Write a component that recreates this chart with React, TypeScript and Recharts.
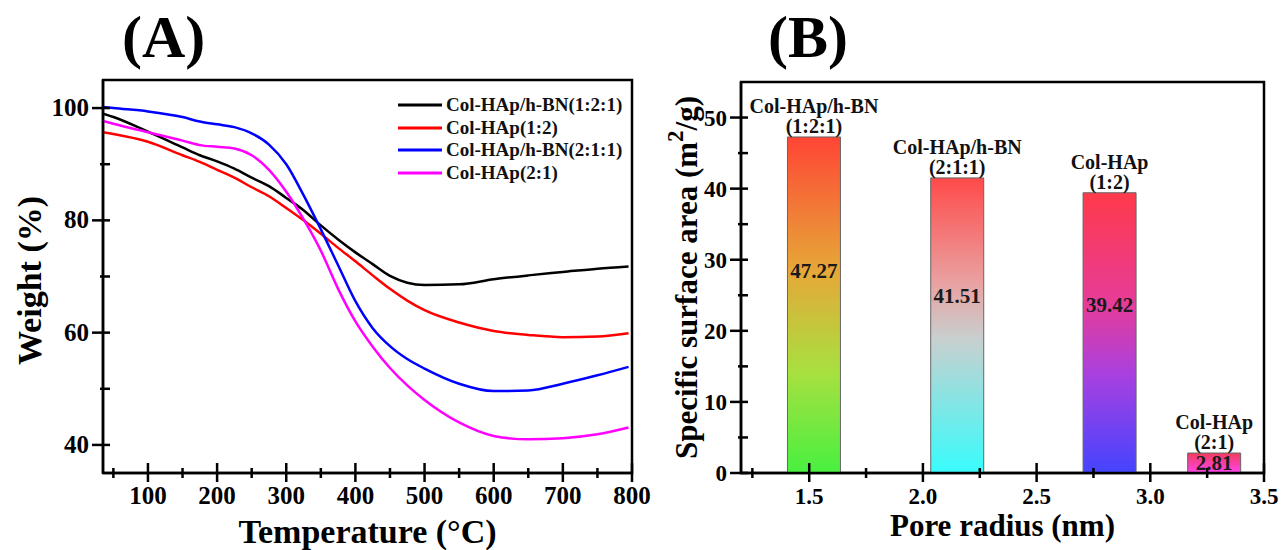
import React from 'react';
import {
  LineChart, Line, XAxis, YAxis, ReferenceArea, Label,
  BarChart, Bar, Cell, LabelList,
} from 'recharts';

const FONT = '"Liberation Serif", "Times New Roman", serif';

// (A) TGA curves, weight %
const temperature = [35, 50, 100, 150, 175, 200, 225, 250, 275, 300, 325, 350, 375, 400, 425, 450, 475, 500, 550, 600, 650, 700, 750, 795];
const wtBN121 = [99.0, 98.4, 95.8, 93.0, 91.6, 90.5, 89.2, 87.6, 86.1, 84.0, 81.8, 79.1, 76.6, 74.3, 72.2, 70.1, 68.9, 68.5, 68.6, 69.5, 70.2, 70.8, 71.4, 71.8];
const wtHAp12 = [95.7, 95.4, 94.0, 91.6, 90.4, 89.0, 87.6, 85.9, 84.3, 82.2, 80.0, 77.6, 75.1, 72.7, 70.2, 67.8, 65.7, 64.0, 61.8, 60.3, 59.6, 59.2, 59.3, 59.9];
const wtBN211 = [100.2, 100.0, 99.4, 98.4, 97.6, 97.1, 96.6, 95.5, 93.5, 90.0, 84.5, 78.4, 72.0, 65.6, 60.8, 57.6, 55.3, 53.6, 50.9, 49.6, 49.7, 50.9, 52.4, 53.9];
const wtHAp21 = [97.7, 97.2, 95.7, 94.2, 93.4, 93.1, 92.8, 91.6, 89.0, 85.1, 80.2, 74.6, 67.8, 62.0, 57.5, 53.7, 50.6, 48.0, 44.0, 41.6, 41.0, 41.2, 41.9, 43.1];

const seriesKeys = ['bn121', 'hap12', 'bn211', 'hap21'];
const seriesNames = ['Col-HAp/h-BN(1:2:1)', 'Col-HAp(1:2)', 'Col-HAp/h-BN(2:1:1)', 'Col-HAp(2:1)'];
const seriesColors = ['#000000', '#ff0000', '#0000ff', '#ff00ff'];

const tempTicks = [50, 100, 150, 200, 250, 300, 350, 400, 450, 500, 550, 600, 650, 700, 750, 800];
const weightTicks = [40, 50, 60, 70, 80, 90, 100];

// (B) BET surface area
const poreRadius = [1.52, 2.15, 2.82, 3.28];
const surfaceArea = [47.27, 41.51, 39.42, 2.81];
const sampleName = ['Col-HAp/h-BN', 'Col-HAp/h-BN', 'Col-HAp', 'Col-HAp'];
const sampleRatio = ['(1:2:1)', '(2:1:1)', '(1:2)', '(2:1)'];
const radiusTicks = [1.25, 1.5, 1.75, 2.0, 2.25, 2.5, 2.75, 3.0, 3.25, 3.5];
const areaTicks = [0, 5, 10, 15, 20, 25, 30, 35, 40, 45, 50];

const tgaData = temperature.map((t, i) => ({
  t,
  bn121: wtBN121[i],
  hap12: wtHAp12[i],
  bn211: wtBN211[i],
  hap21: wtHAp21[i],
}));

const betData = poreRadius.map((r, i) => ({
  r,
  area: surfaceArea[i],
  name: sampleName[i],
  ratio: sampleRatio[i],
}));

// bar gradients, top -> bottom
const barGradients = [
  [['0%', '#ff4535'], ['40%', '#e6a838'], ['70%', '#a8e040'], ['100%', '#48f040']],
  [['0%', '#ff4a4a'], ['35%', '#eaa0a0'], ['55%', '#c8d0d0'], ['100%', '#38fcfc']],
  [['0%', '#ff3a4a'], ['40%', '#e63c9a'], ['65%', '#a840e0'], ['100%', '#4444ff']],
  [['0%', '#f23c5c'], ['100%', '#ff44ee']],
];

const isMajor = (v: number, step: number) => Math.abs(v / step - Math.round(v / step)) < 1e-6;

const XTick = (props: any) => {
  const { x, y, payload, step, fmt, size } = props;
  const major = isMajor(payload.value, step);
  return (
    <g>
      <line x1={x} x2={x} y1={major ? y - 10 : y - 5} y2={major ? y + 9 : y + 5} stroke="#000" strokeWidth={2.5} />
      {major && (
        <text x={x} y={y + 31} textAnchor="middle" fontFamily={FONT} fontWeight="bold" fontSize={size} fill="#000">
          {fmt(payload.value)}
        </text>
      )}
    </g>
  );
};

const YTick = (props: any) => {
  const { x, y, payload, step, size } = props;
  const major = isMajor(payload.value, step);
  return (
    <g>
      <line x1={major ? x - 11 : x - 3} x2={major ? x + 7 : x + 7} y1={y} y2={y} stroke="#000" strokeWidth={2.5} />
      {major && (
        <text x={x - 14} y={y + 8} textAnchor="end" fontFamily={FONT} fontWeight="bold" fontSize={size} fill="#000">
          {payload.value}
        </text>
      )}
    </g>
  );
};

const titleStyle = { fontFamily: FONT, fontWeight: 'bold' as const, fill: '#000' };

const XTitle = (text: string, dy: number, size: number) => (props: any) => {
  const vb = props.viewBox || { x: 0, y: 0, width: 0, height: 0 };
  return (
    <text x={vb.x + vb.width / 2} y={vb.y + dy} textAnchor="middle" fontSize={size} {...titleStyle}>
      {text}
    </text>
  );
};

const WeightTitle = (props: any) => {
  const vb = props.viewBox || { x: 0, y: 0, width: 0, height: 0 };
  const cx = vb.x + 29;
  const cy = vb.y + vb.height / 2 + 4;
  return (
    <text x={cx} y={cy} transform={`rotate(-90 ${cx} ${cy})`} textAnchor="middle" dominantBaseline="central" fontSize={34} {...titleStyle}>
      Weight (%)
    </text>
  );
};

const AreaTitle = (props: any) => {
  const vb = props.viewBox || { x: 0, y: 0, width: 0, height: 0 };
  const cx = vb.x + 46;
  const cy = vb.y + vb.height / 2;
  return (
    <text x={cx} y={cy} transform={`rotate(-90 ${cx} ${cy})`} textAnchor="middle" dominantBaseline="central" fontSize={31} {...titleStyle}>
      <tspan>Specific surface area (m</tspan>
      <tspan dy={-11} fontSize={23}>2</tspan>
      <tspan dy={11}>/g)</tspan>
    </text>
  );
};

const rectOf = (props: any) => {
  const vb = props.viewBox || props;
  return { x: Number(vb.x), y: Number(vb.y), width: Number(vb.width), height: Number(vb.height) };
};

const ValueLabel = (props: any) => {
  const { x, y, width, height } = rectOf(props);
  const cy = y + (height > 50 ? height * 0.4 : height / 2);
  return (
    <text x={x + width / 2} y={cy + 7} textAnchor="middle" fontFamily={FONT} fontWeight="bold" fontSize={21} fill="#1a1a1a">
      {Number(props.value).toFixed(2)}
    </text>
  );
};

const NameLabel = (props: any) => {
  const { x, y, width } = rectOf(props);
  const i = props.index ?? 0;
  return (
    <g fontFamily={FONT} fontWeight="bold" fontSize={20} fill="#111">
      <text x={x + width / 2} y={y - 24} textAnchor="middle">{sampleName[i]}</text>
      <text x={x + width / 2} y={y - 4} textAnchor="middle">{sampleRatio[i]}</text>
    </g>
  );
};

const PanelTitle = ({ text, left }: { text: string; left: number }) => (
  <div style={{ position: 'absolute', left, top: 7, fontFamily: FONT, fontWeight: 'bold', fontSize: 60, lineHeight: '60px', color: '#000' }}>
    {text}
  </div>
);

const TgaLegend = () => (
  <div style={{ position: 'absolute', left: 396, top: 94, fontFamily: FONT, fontWeight: 'bold', fontSize: 19, color: '#111' }}>
    {seriesNames.map((n, i) => (
      <div key={n} style={{ display: 'flex', alignItems: 'center', height: 22.5 }}>
        <svg width={50} height={10}>
          <line x1={2} x2={46} y1={5} y2={5} stroke={seriesColors[i]} strokeWidth={3} />
        </svg>
        <span>{n}</span>
      </div>
    ))}
  </div>
);

export default function App() {
  return (
    <div style={{ position: 'absolute', left: 0, top: 0, width: 1288, height: 550, background: '#fff', overflow: 'hidden' }}>
      <PanelTitle text="(A)" left={122} />
      <PanelTitle text="(B)" left={768} />

      <div style={{ position: 'absolute', left: 0, top: 0 }}>
        <LineChart width={660} height={550} data={tgaData} margin={{ top: 80, right: 28, bottom: 0, left: 0 }}>
          <XAxis
            dataKey="t"
            type="number"
            domain={[35, 800]}
            ticks={tempTicks}
            interval={0}
            tickSize={0}
            tickMargin={0}
            height={77}
            axisLine={{ stroke: '#000', strokeWidth: 2.5 }}
            tickLine={false}
            tick={<XTick step={100} fmt={(v: number) => String(v)} size={25} />}
            allowDataOverflow
          >
            <Label content={XTitle('Temperature (°C)', 70, 34)} />
          </XAxis>
          <YAxis
            type="number"
            domain={[35, 105]}
            ticks={weightTicks}
            interval={0}
            tickSize={0}
            tickMargin={0}
            width={103}
            axisLine={{ stroke: '#000', strokeWidth: 2.5 }}
            tickLine={false}
            tick={<YTick step={20} size={25} />}
            allowDataOverflow
          >
            <Label content={WeightTitle} />
          </YAxis>
          <ReferenceArea x1={35} x2={800} y1={35} y2={105} fill="none" fillOpacity={0} stroke="#000" strokeWidth={2.5} />
          {seriesKeys.map((k, i) => (
            <Line
              key={k}
              type="monotone"
              dataKey={k}
              name={seriesNames[i]}
              stroke={seriesColors[i]}
              strokeWidth={2.5}
              dot={false}
              isAnimationActive={false}
            />
          ))}
        </LineChart>
        <TgaLegend />
      </div>

      <div style={{ position: 'absolute', left: 640, top: 0 }}>
        <BarChart width={648} height={550} data={betData} margin={{ top: 82, right: 24, bottom: 0, left: 0 }}>
          <defs>
            {barGradients.map((stops, i) => (
              <linearGradient key={i} id={`betGrad${i}`} x1="0" y1="0" x2="0" y2="1">
                {stops.map(([off, c]) => (
                  <stop key={off} offset={off} stopColor={c} />
                ))}
              </linearGradient>
            ))}
          </defs>
          <XAxis
            dataKey="r"
            type="number"
            domain={[1.2, 3.5]}
            ticks={radiusTicks}
            interval={0}
            tickSize={0}
            tickMargin={0}
            height={77}
            axisLine={{ stroke: '#000', strokeWidth: 2.5 }}
            tickLine={false}
            tick={<XTick step={0.5} fmt={(v: number) => v.toFixed(1)} size={23} />}
            allowDataOverflow
          >
            <Label content={XTitle('Pore radius (nm)', 63, 31)} />
          </XAxis>
          <YAxis
            type="number"
            domain={[0, 55]}
            ticks={areaTicks}
            interval={0}
            tickSize={0}
            tickMargin={0}
            width={101}
            axisLine={{ stroke: '#000', strokeWidth: 2.5 }}
            tickLine={false}
            tick={<YTick step={10} size={23} />}
            allowDataOverflow
          >
            <Label content={AreaTitle} />
          </YAxis>
          <ReferenceArea x1={1.2} x2={3.5} y1={0} y2={55} fill="none" fillOpacity={0} stroke="#000" strokeWidth={2.5} />
          <Bar dataKey="area" barSize={53} isAnimationActive={false}>
            {betData.map((d, i) => (
              <Cell key={d.r} fill={`url(#betGrad${i})`} stroke="#666" strokeWidth={1} />
            ))}
            <LabelList dataKey="area" content={ValueLabel} />
            <LabelList dataKey="name" content={NameLabel} />
          </Bar>
        </BarChart>
      </div>
    </div>
  );
}
